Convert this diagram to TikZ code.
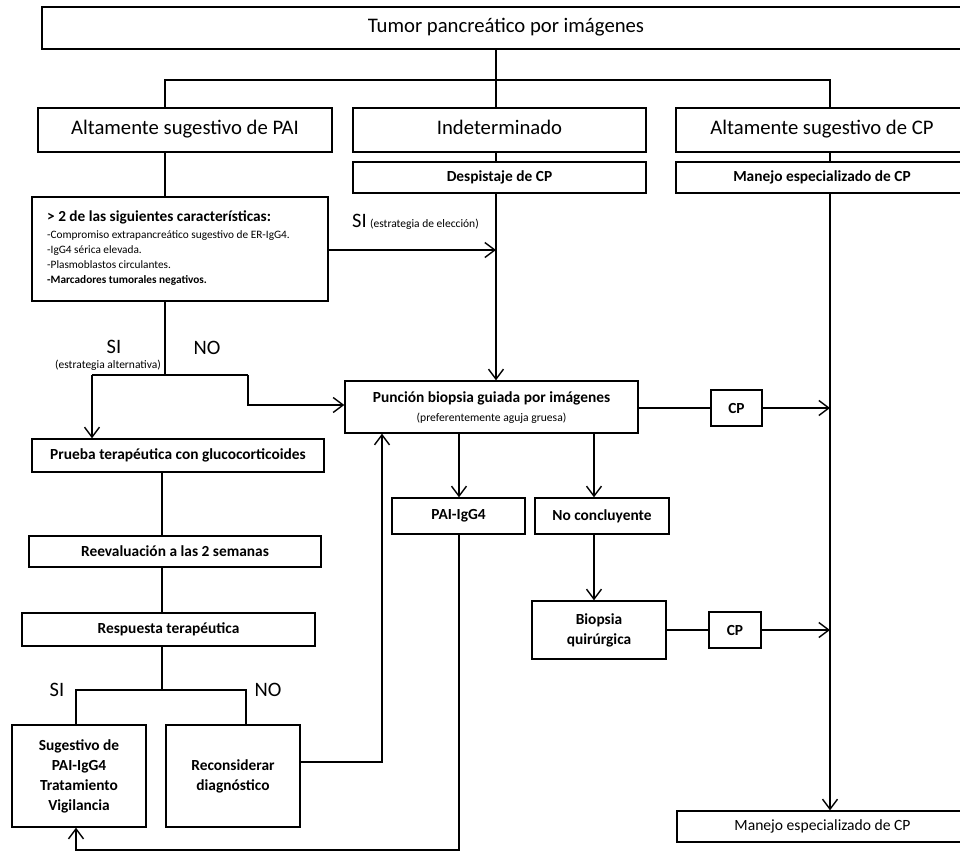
\documentclass[tikz,border=0pt]{standalone}
\usepackage{fontspec}
\setmainfont{Carlito}
\usetikzlibrary{arrows.meta,calc}
\newcommand{\fsz}[1]{\fontsize{#1}{#1}\selectfont}
\begin{document}
\begin{tikzpicture}[x=1pt,y=-1pt,
  bx/.style={draw, line width=1.4pt, inner sep=0pt, align=center},
  ln/.style={line width=1.4pt},
  ar/.style={line width=1.4pt, -{Straight Barb[length=10pt,width=15pt]}},
  big/.style={font=\fsz{20.7}, text height=14pt, text depth=4.5pt},
  med/.style={font=\bfseries\fontsize{15.4}{20}\selectfont},
  lbl/.style={inner sep=0pt}]
\clip (0,0) rectangle (960,852);
\fill[white] (0,0) rectangle (960,852);
% coordinates of vertical lanes
\coordinate (xl) at (165,0);
\coordinate (xm) at (496,0);
\coordinate (xr) at (830,0);
\coordinate (hy) at (0,80);
\coordinate (xa) at (459,0);
\coordinate (xb) at (594,0);
\coordinate (xp) at (162,0);
\coordinate (xu) at (382,0);
% nodes
\node[bx,big,minimum width=928,minimum height=42] (top) at (506,28) {Tumor pancreático por imágenes};
\node[bx,big,minimum width=294,minimum height=44] (pai) at (185,130) {Altamente sugestivo de PAI};
\node[bx,big,minimum width=293,minimum height=44] (ind) at (499.5,130) {Indeterminado};
\node[bx,big,minimum width=292,minimum height=44] (acp) at (822,130) {Altamente sugestivo de CP};
\node[bx,med,minimum width=293,minimum height=31] (desp) at (499.5,177.5) {Despistaje de CP};
\node[bx,med,minimum width=292,minimum height=31] (man1) at (822,177.5) {Manejo especializado de CP};
\node[bx,minimum width=296,minimum height=104] (crit) at (180,249) {};
\node[lbl,anchor=base west,font=\bfseries\fsz{15.3}] (c0) at (47,221) {> 2 de las siguientes características:};
\node[lbl,anchor=base west,font=\fsz{11.3}] (c1) at (47,238) {-Compromiso extrapancreático sugestivo de ER-IgG4.};
\node[lbl,anchor=base west,font=\fsz{11.3}] (c2) at (47,253.5) {-IgG4 sérica elevada.};
\node[lbl,anchor=base west,font=\fsz{11.3}] (c3) at (47,268) {-Plasmoblastos circulantes.};
\node[lbl,anchor=base west,font=\bfseries\fsz{11.3}] (c4) at (47,283) {-Marcadores tumorales negativos.};
\node[lbl,anchor=base west] (siel) at (352,227) {{\fsz{20.5}SI}\,\,{\fsz{11.5}(estrategia de elección)}};
\node[bx,minimum width=293,minimum height=52] (punc) at (491.5,407) {};
\node[lbl,font=\bfseries\fsz{15.4}] (p1) at (491.5,398) {Punción biopsia guiada por imágenes};
\node[lbl,font=\fsz{11.6}] (p2) at (491.5,418) {(preferentemente aguja gruesa)};
\node[bx,med,minimum width=51,minimum height=36] (cp1) at (736.5,408) {CP};
\node[bx,med,minimum width=133,minimum height=36] (paiigg) at (458.5,516) {PAI-IgG4};
\node[bx,med,minimum width=134,minimum height=36] (noc) at (602,516) {No concluyente};
\node[bx,med,minimum width=134,minimum height=58] (biop) at (599,630) {Biopsia\\quirúrgica};
\node[bx,med,minimum width=52,minimum height=36] (cp2) at (735,630) {CP};
\node[bx,font=\fsz{15.6},minimum width=291,minimum height=31] (man2) at (822.5,826.5) {Manejo especializado de CP};
\node[bx,med,minimum width=292,minimum height=33] (prueba) at (178,455.5) {Prueba terapéutica con glucocorticoides};
\node[bx,med,minimum width=292,minimum height=31] (reev) at (175,551.5) {Reevaluación a las 2 semanas};
\node[bx,med,minimum width=293,minimum height=33] (resp) at (168.5,629.5) {Respuesta terapéutica};
\node[bx,med,minimum width=134,minimum height=102] (sug) at (79,776) {Sugestivo de\\PAI-IgG4\\Tratamiento\\Vigilancia};
\node[bx,med,minimum width=134,minimum height=102] (recon) at (233,776) {Reconsiderar\\diagnóstico};
% labels
\node[lbl,font=\fsz{20.5},anchor=base] (si1) at (114,353) {SI};
\node[lbl,font=\fsz{11.5},anchor=base] (sialt) at (108,368) {(estrategia alternativa)};
\node[lbl,font=\fsz{20.5},anchor=base] (no1) at (207,354) {NO};
\node[lbl,font=\fsz{20.5}] (si2) at (57,690) {SI};
\node[lbl,font=\fsz{20.5}] (no2) at (268,690) {NO};
% connectors
\draw[ln] (top.south -| xm) -- (xm |- hy);
\draw[ln] (xl |- pai.north) -- (xl |- hy) -- (xr |- hy) -- (xr |- acp.north);
\draw[ln] (xm |- hy) -- (xm |- ind.north);
\draw[ln] (xm |- ind.south) -- (xm |- desp.north);
\draw[ar] (xm |- desp.south) -- (xm |- punc.north);
\draw[ln] (xr |- acp.south) -- (xr |- man1.north);
\draw[ar] (xr |- man1.south) -- (xr |- man2.north);
\draw[ln] (xl |- pai.south) -- (xl |- crit.north);
\coordinate (cy) at (0,250);
\draw[ar] (crit.east |- cy) -- (xm |- cy);
\coordinate (by) at (0,375);
\coordinate (bl) at (92,375);
\coordinate (br) at (248,375);
\coordinate (bq) at (248,405);
\draw[ln] (xl |- crit.south) -- (xl |- by);
\draw[ln] (bl) -- (br);
\draw[ar] (bl) -- (bl |- prueba.north);
\draw[ar] (br) -- (bq) -- (punc.west |- bq);
\draw[ln] (punc.east |- cp1) -- (cp1.west);
\draw[ar] (cp1.east) -- (xr |- cp1);
\draw[ar] (xa |- punc.south) -- (xa |- paiigg.north);
\draw[ar] (xb |- punc.south) -- (xb |- noc.north);
\draw[ar] (xb |- noc.south) -- (xb |- biop.north);
\draw[ln] (biop.east) -- (cp2.west);
\draw[ar] (cp2.east) -- (xr |- cp2);
\draw[ln] (xp |- prueba.south) -- (xp |- reev.north);
\draw[ln] (xp |- reev.south) -- (xp |- resp.north);
\coordinate (ry) at (0,690);
\coordinate (sx) at (76,0);
\coordinate (nx) at (246,0);
\draw[ln] (xp |- resp.south) -- (xp |- ry);
\draw[ln] (sx |- sug.north) -- (sx |- ry) -- (nx |- ry) -- (nx |- recon.north);
\coordinate (uy) at (0,762);
\draw[ar] (recon.east |- uy) -- (xu |- uy) -- (xu |- punc.south);
\coordinate (ly) at (0,850);
\draw[ar] (xa |- paiigg.south) -- (xa |- ly) -- (sx |- ly) -- (sx |- sug.south);
\end{tikzpicture}
\end{document}
